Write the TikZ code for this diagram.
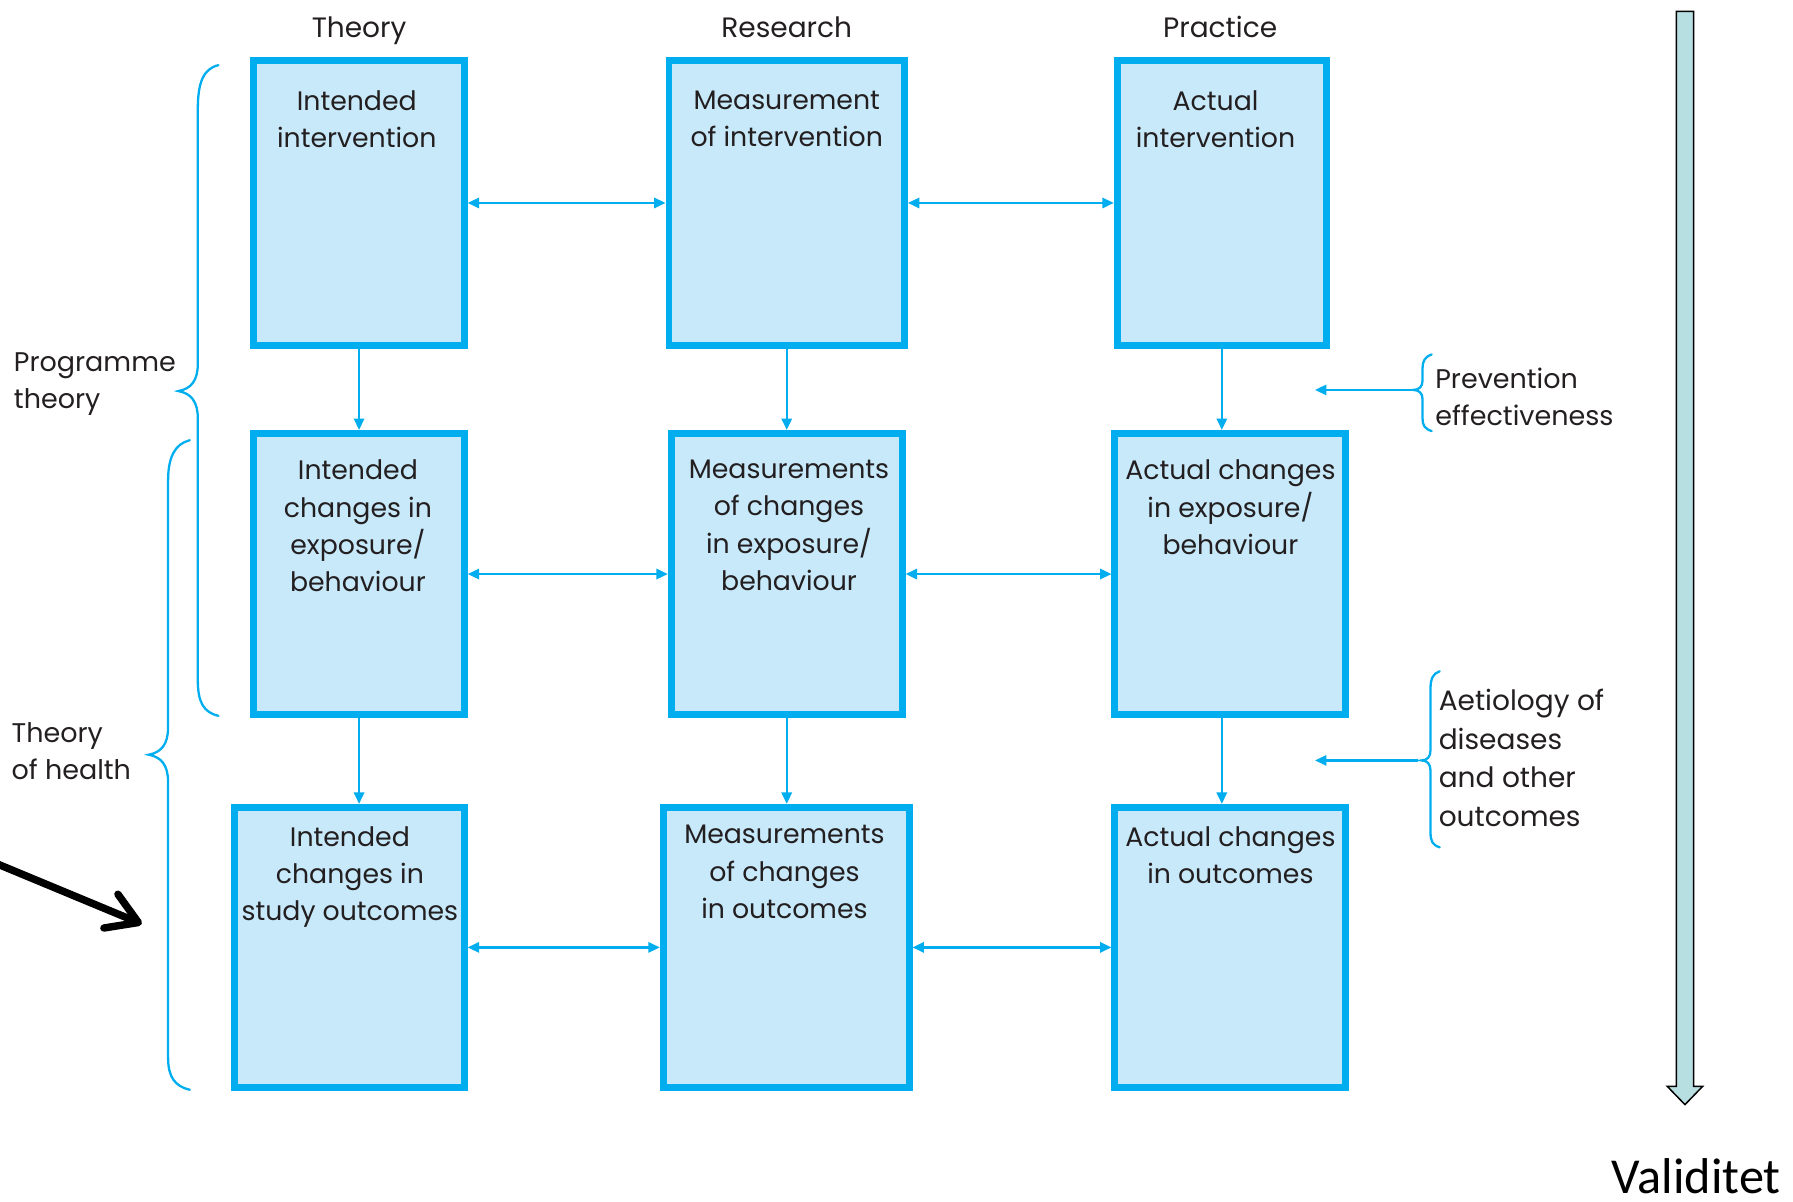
\documentclass[tikz,border=0pt]{standalone}
\usepackage{fontspec}
\setmainfont{Poppins}
\newfontfamily\valfont{Carlito}
\usetikzlibrary{arrows.meta}
\definecolor{boxline}{HTML}{00AEEF}
\definecolor{boxfill}{HTML}{C7E9FA}
\definecolor{ink}{HTML}{231F20}
\definecolor{validfill}{HTML}{B7DEE1}
\begin{document}
\begin{tikzpicture}[x=1pt,y=-1pt,
  >={Triangle[length=10pt,width=9pt]},
  box/.style={draw=boxline, fill=boxfill, line width=6pt, inner sep=0pt},
  boxtext/.style={anchor=north, align=center, inner sep=0pt, text=ink,
    font=\fontsize{23.4}{32.7}\selectfont},
  sidelabel/.style={anchor=west, align=left, inner sep=0pt, text=ink,
    font=\fontsize{23.6}{32.7}\selectfont},
  colhead/.style={anchor=base, inner sep=0pt, text=ink,
    font=\fontsize{24.5}{30}\selectfont},
  link/.style={draw=boxline, line width=2pt},
  bracket/.style={draw=boxline, line width=2pt, line cap=round}]
\useasboundingbox (0,0) rectangle (1568,1051);

% column headings
\node[colhead] (hTheory)   at (314,33)  {Theory};
\node[colhead] (hResearch) at (688,33)  {Research};
\node[colhead] (hPractice) at (1067,33) {Practice};

% boxes: row 1
\node[box, minimum width=184pt, minimum height=249pt] (b11) at (314,177.5) {};
\node[box, minimum width=206pt, minimum height=249pt] (b12) at (688,177.5) {};
\node[box, minimum width=183pt, minimum height=249pt] (b13) at (1068.5,177.5) {};
% row 2
\node[box, minimum width=184pt, minimum height=246pt] (b21) at (314,502) {};
\node[box, minimum width=202pt, minimum height=246pt] (b22) at (688,502) {};
\node[box, minimum width=202pt, minimum height=246pt] (b23) at (1076,502) {};
% row 3
\node[box, minimum width=201pt, minimum height=245pt] (b31) at (305.5,828.5) {};
\node[box, minimum width=215pt, minimum height=245pt] (b32) at (687.5,828.5) {};
\node[box, minimum width=202pt, minimum height=245pt] (b33) at (1076,828.5) {};

% box captions
\node[boxtext] (t11) at (312,79)  {Intended\\intervention};
\node[boxtext] (t12) at (688,79)  {Measurement\\of intervention};
\node[boxtext] (t13) at (1063,79) {Actual\\intervention};
\node[boxtext] (t21) at (313,402) {Intended\\changes in\\exposure/\\behaviour};
\node[boxtext] (t22) at (690,402) {Measurements\\of changes\\in exposure/\\behaviour};
\node[boxtext] (t23) at (1076,402) {Actual changes\\in exposure/\\behaviour};
\node[boxtext] (t31) at (306,722.5) {Intended\\changes in\\study outcomes};
\node[boxtext] (t32) at (686,721.5) {Measurements\\of changes\\in outcomes};
\node[boxtext] (t33) at (1076,722.5) {Actual changes\\in outcomes};

% horizontal links
\draw[link,<->] (b11.east) -- (b12.west);
\draw[link,<->] (b12.east) -- (b13.west);
\draw[link,<->] (b21.east) -- (b22.west);
\draw[link,<->] (b22.east) -- (b23.west);
\draw[link,<->] (b31.east) -- (b32.west);
\draw[link,<->] (b32.east) -- (b33.west);

% vertical links
\draw[link,->] (b11.south) -- (b11.south |- b21.north);
\draw[link,->] (b12.south) -- (b12.south |- b22.north);
\draw[link,->] (b13.south) -- (b13.south |- b23.north);
\draw[link,->] (b21.south) -- (b21.south |- b31.north);
\draw[link,->] (b22.south) -- (b22.south |- b32.north);
\draw[link,->] (b23.south -| b13.south) -- (b33.north -| b13.south);

% left braces
\draw[bracket] (191,57) .. controls (178,60) and (173,72) .. (173,95)
  -- (173,318) .. controls (173,333) and (167,340) .. (156,342)
  .. controls (167,344) and (173,351) .. (173,366)
  -- (173,595) .. controls (173,614) and (178,623) .. (191,626);
\draw[bracket] (166,385) .. controls (153,388) and (147,400) .. (147,420)
  -- (147,636) .. controls (147,651) and (141,658) .. (130,660)
  .. controls (141,662) and (147,669) .. (147,684)
  -- (147,925) .. controls (147,942) and (153,950) .. (166,953);
\node[sidelabel] (lProg)   at (12,336) {Programme\\theory};
\node[sidelabel] (lHealth) at (10,657) {Theory\\of health};

% right braces with their arrows
\draw[bracket] (1252,310) .. controls (1246,312) and (1244,316) .. (1244,322)
  -- (1244,333) .. controls (1244,338) and (1241,341) .. (1236,341)
  .. controls (1241,341) and (1244,344) .. (1244,349)
  -- (1244,366) .. controls (1244,372) and (1246,375) .. (1252,377);
\draw[bracket] (1259,587) .. controls (1253,589) and (1251,594) .. (1251,602)
  -- (1251,656) .. controls (1251,662) and (1248,665) .. (1243,665)
  .. controls (1248,665) and (1251,668) .. (1251,674)
  -- (1251,728) .. controls (1251,736) and (1253,739) .. (1259,741);
\coordinate (peFrom) at (1234,341);
\coordinate (peTo)   at (1150,341);
\coordinate (aeFrom) at (1240,665);
\coordinate (aeTo)   at (1150,665);
\draw[link,->] (peFrom) -- (peTo);
\draw[link,->] (aeFrom) -- (aeTo);
\node[sidelabel, font=\fontsize{23.6}{33}\selectfont] (lPrev) at (1255,347)
  {Prevention\\effectiveness};
\node[sidelabel, font=\fontsize{24.5}{33.7}\selectfont] (lAet) at (1258,663)
  {Aetiology of\\diseases\\and other\\outcomes};

% black pointer arrow
\coordinate (ptrFrom) at (-6,754);
\coordinate (ptrTo)   at (124,808);
\draw[line width=6.5pt, line cap=round,
  -{Straight Barb[length=26pt,width=32pt,line cap=round,line join=round]}]
  (ptrFrom) -- (ptrTo);

% validity block arrow
\filldraw[fill=validfill, draw=black, line width=1.3pt, line join=miter]
  (1466,10) -- (1481,10) -- (1481,950) -- (1489,950) -- (1473.5,966)
  -- (1458,950) -- (1466,950) -- cycle;
\node[anchor=base, inner sep=0pt, font=\valfont\fontsize{44}{48}\selectfont]
  (validity) at (1483.5,1044) {Validitet};
\end{tikzpicture}
\end{document}
